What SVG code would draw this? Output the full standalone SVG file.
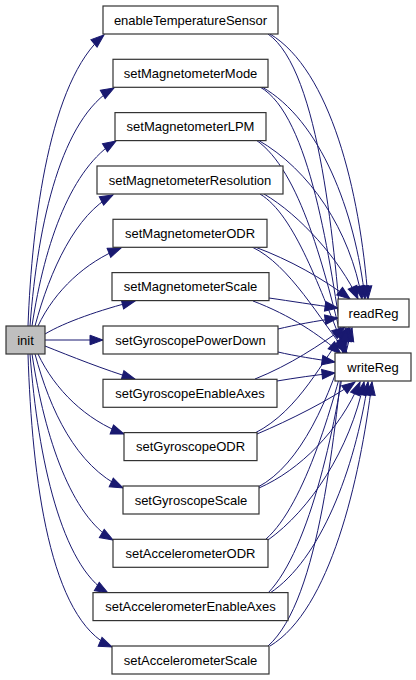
<svg xmlns="http://www.w3.org/2000/svg" width="416" height="680" viewBox="0 0 416 680">
<defs>
<marker id="a" markerUnits="userSpaceOnUse" markerWidth="14" markerHeight="10" refX="13" refY="5" orient="auto" viewBox="0 0 14 10" overflow="visible">
<path d="M0,0.2 L13,5 L0,9.8 z" fill="#191970" stroke="#191970" stroke-width="1"/>
</marker>
<style>
.n rect{fill:#fff;stroke:#333;stroke-width:1.2}
.n text{font-family:"Liberation Sans",Arial,sans-serif;font-size:13px;fill:#000;text-anchor:middle}
#init rect{fill:#bfbfbf}
#edges path{fill:none;stroke:#191970;stroke-width:1;marker-end:url(#a)}
</style>
</defs>
<rect width="416" height="680" fill="#fff"/>
<g id="edges">
<path d="M28,326 C32,220 50,80 104,35"/>
<path d="M30,326 C38,220 62,118 114,88"/>
<path d="M32,326 C45,240 72,168 116,141"/>
<path d="M35,326 C50,270 76,214 113,195"/>
<path d="M38,326 C55,290 86,262 121,248"/>
<path d="M45,334 C65,322 100,310 135,301"/>
<path d="M45,340 L103,340"/>
<path d="M45,346 C70,356 105,370 135,379"/>
<path d="M38,354 C55,390 86,420 124,434"/>
<path d="M35,354 C50,410 76,466 123,488"/>
<path d="M32,354 C45,440 72,516 113,540"/>
<path d="M30,354 C38,460 62,566 108,593"/>
<path d="M28,354 C32,480 50,620 112,647"/>
<path d="M270,34 C330,70 360,190 368,299"/>
<path d="M268,34 C320,70 335,250 343,353"/>
<path d="M262,87 C320,120 355,210 365,299"/>
<path d="M260,87 C310,115 330,260 344,353"/>
<path d="M258,140 C310,170 350,230 362,299"/>
<path d="M256,140 C300,170 325,270 345,353"/>
<path d="M264,194 C300,215 340,260 358,299"/>
<path d="M260,194 C295,215 320,290 346,353"/>
<path d="M255,247 C290,260 322,278 350,299"/>
<path d="M252,247 C290,265 320,320 347,353"/>
<path d="M269,298 C290,301 315,305 338,308"/>
<path d="M253,301 C290,315 320,335 341,354"/>
<path d="M278,329 C295,325 315,321 338,318"/>
<path d="M278,352 C295,356 315,359 335,362"/>
<path d="M277,381 C295,378 315,375 335,373"/>
<path d="M255,379 C290,365 320,345 345,327"/>
<path d="M257,434 C290,420 330,400 355,382"/>
<path d="M255,433 C300,410 322,360 348,328"/>
<path d="M259,488 C300,470 340,430 360,382"/>
<path d="M258,487 C300,465 330,400 350,328"/>
<path d="M268,540 C310,510 350,450 364,382"/>
<path d="M266,539 C305,505 335,400 352,328"/>
<path d="M270,593 C320,560 355,470 368,382"/>
<path d="M268,593 C310,550 338,420 349,328"/>
<path d="M270,646 C330,610 360,480 372,382"/>
<path d="M268,646 C320,600 335,430 346,328"/>
</g>
<g id="init" class="n"><rect x="6" y="326" width="39" height="28"/><text x="25.5" y="344.5">init</text></g>
<g id="enableTemperatureSensor" class="n"><rect x="103" y="6" width="175" height="28"/><text x="190.5" y="24.5">enableTemperatureSensor</text></g>
<g id="setMagnetometerMode" class="n"><rect x="113" y="59.3" width="155" height="28"/><text x="190.5" y="77.8">setMagnetometerMode</text></g>
<g id="setMagnetometerLPM" class="n"><rect x="115" y="112.6" width="151" height="28"/><text x="190.5" y="131.1">setMagnetometerLPM</text></g>
<g id="setMagnetometerResolution" class="n"><rect x="97" y="166" width="186" height="28"/><text x="190" y="184.5">setMagnetometerResolution</text></g>
<g id="setMagnetometerODR" class="n"><rect x="113" y="219.3" width="154" height="28"/><text x="190" y="237.8">setMagnetometerODR</text></g>
<g id="setMagnetometerScale" class="n"><rect x="112" y="272.6" width="157" height="28"/><text x="190.5" y="291.1">setMagnetometerScale</text></g>
<g id="setGyroscopePowerDown" class="n"><rect x="103" y="326" width="175" height="28"/><text x="190.5" y="344.5">setGyroscopePowerDown</text></g>
<g id="setGyroscopeEnableAxes" class="n"><rect x="103" y="379.3" width="174" height="28"/><text x="190" y="397.8">setGyroscopeEnableAxes</text></g>
<g id="setGyroscopeODR" class="n"><rect x="124" y="432.6" width="133" height="28"/><text x="190.5" y="451.1">setGyroscopeODR</text></g>
<g id="setGyroscopeScale" class="n"><rect x="123" y="486" width="136" height="28"/><text x="191" y="504.5">setGyroscopeScale</text></g>
<g id="setAccelerometerODR" class="n"><rect x="113" y="539.3" width="155" height="28"/><text x="190.5" y="557.8">setAccelerometerODR</text></g>
<g id="setAccelerometerEnableAxes" class="n"><rect x="93" y="592.6" width="195" height="28"/><text x="190.5" y="611.1">setAccelerometerEnableAxes</text></g>
<g id="setAccelerometerScale" class="n"><rect x="112" y="646" width="157" height="28"/><text x="190.5" y="664.5">setAccelerometerScale</text></g>
<g id="readReg" class="n"><rect x="338" y="299" width="71" height="28"/><text x="373.5" y="317.5">readReg</text></g>
<g id="writeReg" class="n"><rect x="335" y="353" width="76" height="28"/><text x="373" y="371.5">writeReg</text></g>
</svg>
